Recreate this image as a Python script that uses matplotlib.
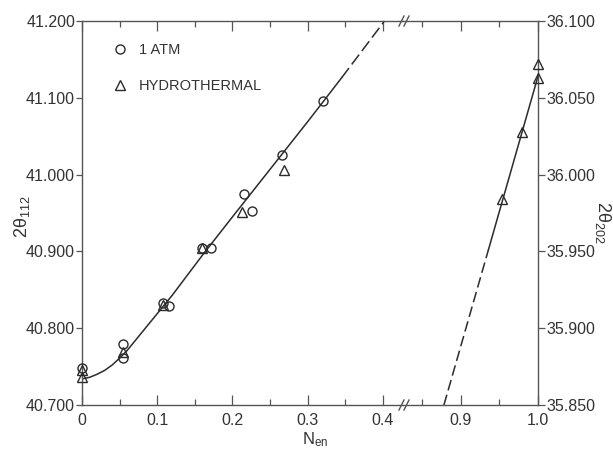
import matplotlib
matplotlib.use("Agg")
import matplotlib.pyplot as plt
from matplotlib.lines import Line2D

plt.rcParams['font.family'] = ['Liberation Sans', 'DejaVu Sans']
plt.rcParams['mathtext.fontset'] = 'custom'
plt.rcParams['mathtext.rm'] = 'Liberation Sans'
plt.rcParams['mathtext.it'] = 'Liberation Sans'

# ---- data: left section (2theta_112) ----
atm_x = [0.0, 0.055, 0.055, 0.108, 0.116, 0.160, 0.171, 0.215, 0.226, 0.266, 0.320]
atm_y = [40.748, 40.780, 40.761, 40.833, 40.829, 40.905, 40.905, 40.975, 40.953, 41.026, 41.096]
hyd_x = [0.0, 0.0, 0.055, 0.108, 0.160, 0.213, 0.268]
hyd_y = [40.746, 40.736, 40.769, 40.830, 40.904, 40.951, 41.006]
curve_x = [0.0, 0.01, 0.02, 0.03, 0.04, 0.05, 0.06, 0.07, 0.08, 0.09, 0.10, 0.11,
           0.12, 0.13, 0.14, 0.15, 0.16, 0.20, 0.25, 0.30, 0.345]
curve_y = [40.734, 40.736, 40.740, 40.745, 40.752, 40.761, 40.771, 40.783, 40.795,
           40.807, 40.819, 40.831, 40.843, 40.856, 40.869, 40.882, 40.895, 40.945,
           41.007, 41.069, 41.126]
ext_x = [0.345, 0.402]
ext_y = [41.126, 41.200]

# ---- data: right section (2theta_202) ----
hyd2_x = [0.953, 0.979, 1.0, 1.0]
hyd2_y = [35.984, 36.028, 36.063, 36.072]
line2_x = [0.936, 1.0]
line2_y = [35.951, 36.064]
ext2_x = [0.8786, 0.936]
ext2_y = [35.850, 35.951]

left_xticks = [0.0, 0.1, 0.2, 0.3, 0.4]
left_xlabels = ['0', '0.1', '0.2', '0.3', '0.4']
left_xminor = [0.05, 0.15, 0.25, 0.35]
right_xticks = [0.9, 1.0]
right_xlabels = ['0.9', '1.0']
right_xminor = [0.85, 0.95]
left_yticks = [40.7, 40.8, 40.9, 41.0, 41.1, 41.2]
left_ylabels = ['40.700', '40.800', '40.900', '41.000', '41.100', '41.200']
right_yticks = [35.85, 35.90, 35.95, 36.00, 36.05, 36.10]
right_ylabels = ['35.850', '35.900', '35.950', '36.000', '36.050', '36.100']

ink = '#2b2b2b'
axc = '#555555'
txt = '#333333'
TS = 11.5

W, H = 613, 451
fig = plt.figure(figsize=(W / 100, H / 100), dpi=100)
L, B, R, T = 82, 405, 538, 21
BRK = 403
axL = fig.add_axes([L / W, 1 - B / H, (BRK - L) / W, (B - T) / H])
axR = fig.add_axes([BRK / W, 1 - B / H, (R - BRK) / W, (B - T) / H])

axL.set_xlim(0.0, 0.4266)
axL.set_ylim(40.7, 41.2)
axR.set_xlim(0.8258, 1.0)
axR.set_ylim(35.85, 36.10)

for ax in (axL, axR):
    for s in ax.spines.values():
        s.set_color(axc)
        s.set_linewidth(1.0)
    ax.tick_params(axis='x', which='both', direction='in', top=True, bottom=True,
                   colors=axc, labelcolor=txt, labelsize=TS, pad=6)
    ax.tick_params(axis='x', which='major', length=7, width=0.9)
    ax.tick_params(axis='x', which='minor', length=4, width=0.9)

axL.spines['right'].set_visible(False)
axR.spines['left'].set_visible(False)

axL.set_xticks(left_xticks)
axL.set_xticklabels(left_xlabels)
axL.set_xticks(left_xminor, minor=True)
axR.set_xticks(right_xticks)
axR.set_xticklabels(right_xlabels)
axR.set_xticks(right_xminor, minor=True)

axL.set_yticks(left_yticks)
axL.set_yticklabels(left_ylabels)
axL.tick_params(axis='y', direction='out', length=4, width=0.9, pad=1,
                colors=axc, labelcolor=txt, labelsize=TS)
axR.yaxis.tick_right()
axR.set_yticks(right_yticks)
axR.set_yticklabels(right_ylabels)
axR.tick_params(axis='y', direction='out', length=5, width=0.9, pad=1,
                left=False, right=True, colors=axc, labelcolor=txt, labelsize=TS)

# curves
axL.plot(curve_x, curve_y, color=ink, lw=1.1, zorder=2)
axL.plot(ext_x, ext_y, color=ink, lw=1.1, dashes=(8, 3), zorder=2, clip_on=False)
axR.plot(line2_x, line2_y, color=ink, lw=1.1, zorder=2, clip_on=False)
axR.plot(ext2_x, ext2_y, color=ink, lw=1.1, dashes=(7, 3), zorder=2)

mstyle = dict(linestyle='none', markerfacecolor='none', markeredgecolor=ink,
              markeredgewidth=1.0)
axL.plot(atm_x, atm_y, marker='o', markersize=6.5, clip_on=False, zorder=3, **mstyle)
axL.plot(hyd_x, hyd_y, marker='^', markersize=7, clip_on=False, zorder=3, **mstyle)
axR.plot(hyd2_x, hyd2_y, marker='^', markersize=7, clip_on=False, zorder=3, **mstyle)

# legend
h1 = Line2D([], [], marker='o', markersize=6.5, **mstyle)
h2 = Line2D([], [], marker='^', markersize=7, **mstyle)
leg = axL.legend([h1, h2], ['1 ATM', 'HYDROTHERMAL'], loc='upper left',
                 bbox_to_anchor=((113 - L) / (BRK - L), 1 - (43 - T) / (B - T)),
                 frameon=False, handlelength=1.0, handletextpad=0.75,
                 labelspacing=1.5, borderpad=0, borderaxespad=0,
                 fontsize=10.5, numpoints=1)
for t in leg.get_texts():
    t.set_color(txt)

# axis labels
fig.text(22 / W, 1 - 217 / H, r'2θ$_{112}$', rotation=90, ha='center', va='center',
         fontsize=13, color=txt)
fig.text(603 / W, 1 - 222 / H, r'2θ$_{202}$', rotation=-90, ha='center', va='center',
         fontsize=13, color=txt)
fig.text(315 / W, 1 - 440 / H, r'N$_{\mathrm{en}}$', ha='center', va='center',
         fontsize=12, color=txt)

# axis break marks
for yb in (T, B):
    for dx in (0, 5):
        x0 = BRK - 4 + dx
        fig.add_artist(Line2D([x0 / W, (x0 + 5) / W], [1 - (yb + 5) / H, 1 - (yb - 5) / H],
                              color=axc, lw=1.0))

fig.savefig('out.png', dpi=100)
